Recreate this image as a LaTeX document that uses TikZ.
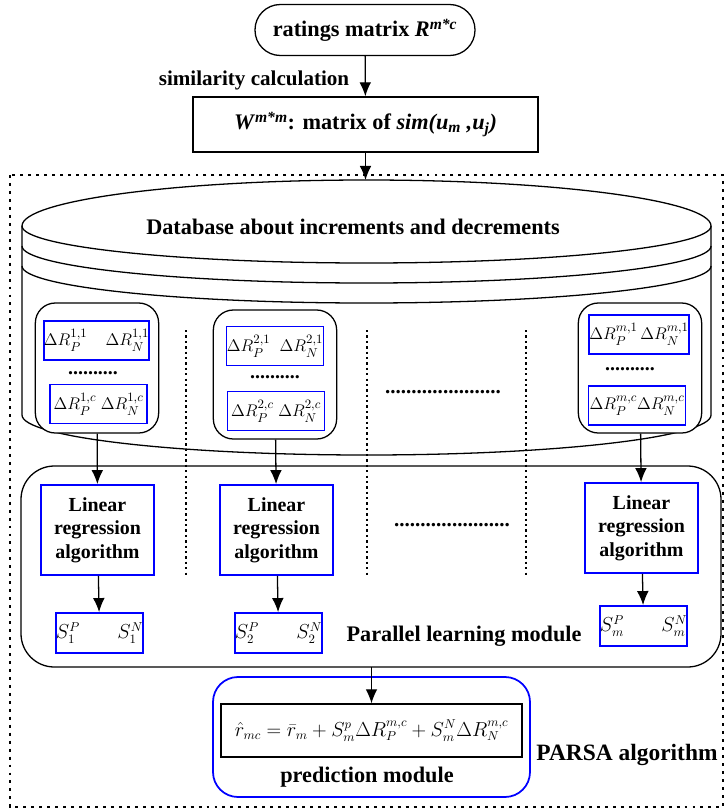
\documentclass[tikz,border=0pt]{standalone}
\usepackage{amsmath}
\usepackage{amssymb}
\usepackage{fontspec}
\setmainfont{Liberation Serif}
\usepackage{tikz}
\usetikzlibrary{positioning, arrows.meta}

\begin{document}
\begin{tikzpicture}[x=0.03cm, y=-0.03cm,
    bigfont/.style={font=\fontsize{19}{22}\selectfont\bfseries},
    blk/.style={draw, line width=1.1pt},
    colbox/.style={blk, rounded corners=0.6cm, fill=white, minimum width=3.7cm, minimum height=3.9cm},
    dbox/.style={draw=blue, line width=1.5pt, fill=white, inner sep=0pt, minimum width=2.91cm, minimum height=1.17cm, font=\fontsize{15.5}{17}\selectfont},
    lrbox/.style={draw=blue, line width=1.5pt, fill=white, minimum width=3.39cm, minimum height=2.7cm, align=center, font=\fontsize{17}{20}\selectfont\bfseries},
    sbox/.style={draw=blue, line width=1.5pt, fill=white, inner sep=0pt, minimum width=2.43cm, minimum height=1.2cm, font=\fontsize{16}{18}\selectfont},
    dots/.style={inner sep=0pt, font=\fontsize{17}{20}\selectfont\bfseries},
    flow/.style={-{Latex[length=12pt,width=10pt]}, line width=1.1pt},
    sep/.style={dash pattern=on 2pt off 2.6pt, line width=1pt}]
    \useasboundingbox (0,0) rectangle (724,811);

    % top of the chart
    \node[blk, rounded corners=0.76cm, minimum width=6.6cm, minimum height=1.53cm, bigfont] (rm) at (365,30) {ratings matrix \textit{R}\textsuperscript{\textit{m*c}}};
    \node[font=\fontsize{18}{21}\selectfont\bfseries] (simc) at (254,80) {similarity calculation};
    \node[blk, minimum width=10.35cm, minimum height=1.65cm, bigfont] (wm) at (365.5,124.5) {\textit{W}\textsuperscript{\textit{m*m}}: matrix of \textit{sim(u\textsubscript{m} ,u\textsubscript{j})}};
    \coordinate (dbtop) at (365.5,180);

    % PARSA frame
    \draw[dash pattern=on 2.5pt off 4.3pt, line width=1.1pt] (10,175) rectangle (723,807);

    % database cylinder
    \draw[line width=1.1pt] (22,226) arc[start angle=180, end angle=0, x radius=10.335cm, y radius=1.38cm];
    \draw[line width=1.1pt] (22,226) arc[start angle=180, end angle=360, x radius=10.335cm, y radius=1.11cm];
    \draw[line width=1.1pt] (22,246) arc[start angle=180, end angle=360, x radius=10.335cm, y radius=1.11cm];
    \draw[line width=1.1pt] (22,266) arc[start angle=180, end angle=360, x radius=10.335cm, y radius=1.11cm];
    \draw[line width=1.1pt] (22,226) -- (22,415) arc[start angle=180, end angle=360, x radius=10.335cm, y radius=1.2cm] -- (711,226);
    \node[bigfont] (db) at (353,227) {Database about increments and decrements};

    % separators
    \draw[sep] (186,330) -- (186,575);
    \draw[sep] (367,330) -- (367,575);
    \draw[sep] (526,330) -- (526,575);

    % parallel learning module
    \draw[blk, rounded corners=1cm] (21,466) rectangle (721,667);
    \node[bigfont] (plm) at (464,636) {Parallel learning module};
    \coordinate (plmb) at (371.5,667);

    % user 1
    \node[colbox] (c1) at (97,368) {};
    \node[dbox] (d11) at (96.5,340.5) {$\Delta R_P^{1,1}\quad\Delta R_N^{1,1}$};
    \node[dots] (p1) at (93,373) {..........};
    \node[dbox] (d1c) at (98.5,404) {$\Delta R_P^{1,c}\;\Delta R_N^{1,c}$};
    \node[lrbox] (lr1) at (97.5,530) {Linear\\regression\\algorithm};
    \node[sbox] (s1) at (99.5,633) {$S_1^P\qquad S_1^N$};

    % user 2
    \node[colbox, minimum height=3.87cm] (c2) at (275,374.5) {};
    \node[dbox] (d21) at (275,346) {$\Delta R_P^{2,1}\;\;\Delta R_N^{2,1}$};
    \node[dots] (p2) at (275,377) {..........};
    \node[dbox] (d2c) at (276,411) {$\Delta R_P^{2,c}\;\Delta R_N^{2,c}$};
    \node[lrbox] (lr2) at (276.5,530) {Linear\\regression\\algorithm};
    \node[sbox] (s2) at (278.5,633) {$S_2^P\qquad S_2^N$};

    % more users
    \node[dots, font=\fontsize{18}{20}\selectfont\bfseries] (pm1) at (443,392) {......................};
    \node[dots, font=\fontsize{18}{20}\selectfont\bfseries] (pm2) at (452,525) {......................};

    % user m
    \node[colbox] (cm) at (640,368) {};
    \node[dbox] (dm1) at (639,334.5) {$\Delta R_P^{m,1}\,\Delta R_N^{m,1}$};
    \node[dots] (pm) at (630,369) {..........};
    \node[dbox] (dmc) at (637,405.5) {$\Delta R_P^{m,c}\Delta R_N^{m,c}$};
    \node[lrbox] (lrm) at (641.5,528) {Linear\\regression\\algorithm};
    \node[sbox] (sm) at (643.5,626) {$S_m^P\qquad S_m^N$};

    % prediction module
    \node[draw=blue, line width=1.5pt, rounded corners=0.75cm, minimum width=9.51cm, minimum height=3.6cm] (pred) at (371.5,737) {};
    \node[blk, fill=white, minimum width=9.03cm, minimum height=1.59cm, font=\fontsize{16}{18}\selectfont] (fm) at (371.5,730.5) {$\hat{r}_{mc}=\bar{r}_m+S_m^p\Delta R_P^{m,c}+S_m^N\Delta R_N^{m,c}$};
    \node[bigfont] (pml) at (367,777) {prediction module};
    \node[bigfont, font=\fontsize{20}{22}\selectfont\bfseries] (parsa) at (627,755) {PARSA algorithm};

    \draw[flow] (rm) -- (wm);
    \draw[flow] (wm) -- (dbtop);
    \draw[flow] (c1) -- (lr1);
    \draw[flow] (c2) -- (lr2);
    \draw[flow] (cm) -- (lrm);
    \draw[flow] (lr1) -- (s1);
    \draw[flow] (lr2) -- (s2);
    \draw[flow] (lrm) -- (sm);
    \draw[flow] (plmb) -- (fm);
\end{tikzpicture}
\end{document}
